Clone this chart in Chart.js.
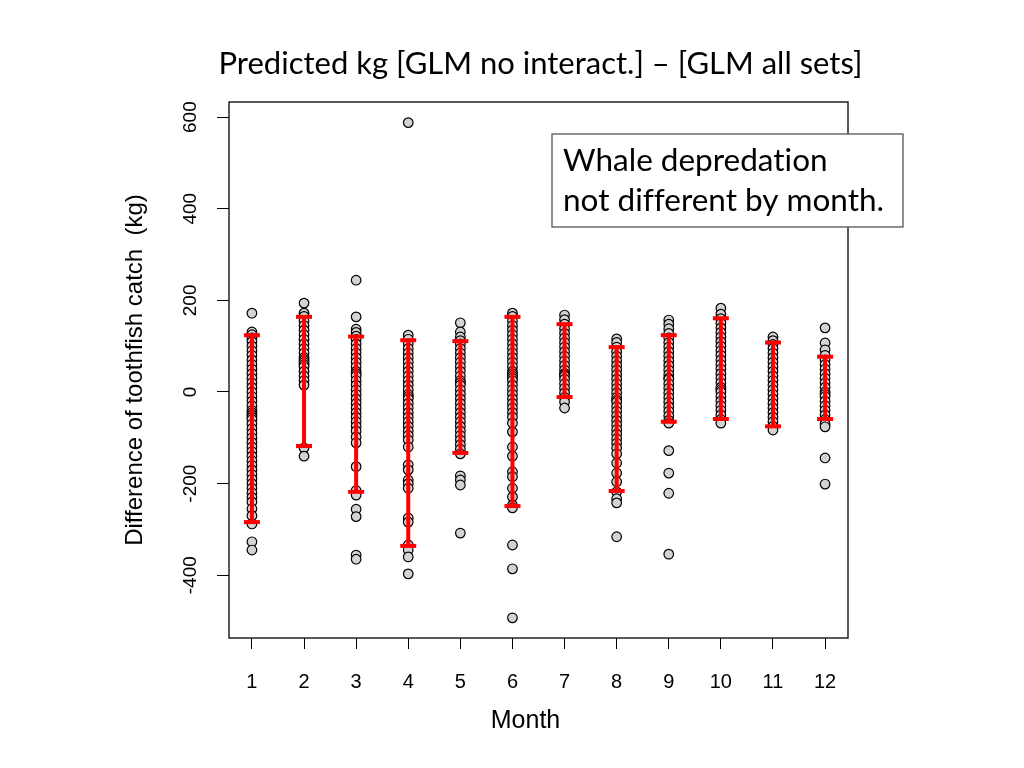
<!DOCTYPE html>
<html>
<head>
<meta charset="utf-8">
<script src="https://cdn.jsdelivr.net/npm/chart.js@4.4.0/dist/chart.umd.min.js"></script>
<style>
  html, body { margin: 0; padding: 0; background: #fff; }
</style>
</head>
<body>
<canvas id="diffChart" width="1024" height="768"></canvas>
<script>
// Months and per-month differences (kg)
const months = [1, 2, 3, 4, 5, 6, 7, 8, 9, 10, 11, 12];
const yTicks = [-400, -200, 0, 200, 400, 600];

const m1 = [172, 131, 125, 118, 110, 100, 90, 80, 70, 60, 50, 40, 30, 20, 10, 0, -10, -20, -30, -40, -45, -50, -55, -60, -70, -80, -90, -100, -110, -120, -130, -140, -150, -160, -170, -180, -190, -200, -210, -220, -230, -240, -255, -270, -288, -327, -345];
const m2 = [194, 172, 165, 155, 145, 135, 125, 115, 105, 95, 85, 75, 70, 65, 60, 55, 45, 35, 25, 15, -122, -140];
const m3 = [244, 164, 137, 130, 122, 115, 105, 95, 85, 75, 65, 55, 45, 40, 35, 25, 15, 5, -5, -15, -25, -35, -45, -55, -65, -75, -85, -98, -111, -163, -215, -225, -256, -272, -356, -365];
const m4 = [588, 124, 115, 105, 95, 85, 75, 65, 55, 45, 35, 25, 15, 5, -5, -10, -15, -25, -35, -45, -55, -65, -75, -85, -95, -105, -120, -159, -170, -192, -200, -210, -275, -284, -334, -345, -360, -397];
const m5 = [151, 131, 120, 112, 105, 95, 85, 75, 65, 55, 45, 35, 25, 20, 15, 5, -5, -15, -25, -35, -45, -55, -65, -75, -85, -95, -105, -115, -125, -135, -183, -192, -203, -308];
const m6 = [172, 165, 155, 145, 135, 125, 115, 105, 95, 85, 75, 65, 55, 45, 40, 35, 30, 25, 15, 5, -5, -15, -25, -35, -45, -55, -68, -87, -120, -140, -174, -185, -210, -229, -247, -253, -334, -386, -493];
const m7 = [168, 158, 148, 138, 128, 118, 108, 98, 88, 78, 68, 58, 48, 40, 38, 35, 28, 18, 8, -2, -12, -22, -35];
const m8 = [116, 108, 98, 88, 78, 68, 58, 48, 38, 28, 18, 8, -2, -12, -18, -22, -32, -42, -52, -62, -72, -82, -92, -102, -112, -122, -135, -155, -177, -196, -218, -233, -242, -316];
const m9 = [157, 148, 138, 128, 118, 108, 98, 88, 78, 68, 58, 48, 38, 30, 28, 18, 8, -2, -12, -22, -32, -42, -52, -62, -68, -128, -177, -221, -354];
const m10 = [183, 170, 160, 150, 140, 130, 120, 110, 100, 90, 80, 70, 60, 50, 40, 30, 20, 10, 5, 0, -10, -20, -30, -40, -50, -60, -68];
const m11 = [120, 112, 104, 95, 85, 75, 65, 55, 45, 35, 25, 15, 5, -5, -15, -25, -35, -45, -55, -65, -75, -83];
const m12 = [140, 107, 92, 80, 70, 60, 50, 40, 30, 20, 10, 0, -5, -10, -20, -30, -40, -50, -60, -70, -76, -144, -201];

// Red interval per month
const barLow = [-284, -118, -218, -336, -133, -249, -11, -216, -65, -59, -75, -59];
const barHigh = [124, 164, 121, 113, 111, 164, 148, 98, 124, 161, 108, 77];

const titleText = 'Predicted kg [GLM no interact.] – [GLM all sets]';
const xTitle = 'Month';
const noteLines = ['Whale depredation', 'not different by month.'];

const byMonth = [m1, m2, m3, m4, m5, m6, m7, m8, m9, m10, m11, m12];
const points = [];
byMonth.forEach((vals, i) => vals.forEach(v => points.push({ x: months[i], y: v })));

const barSets = months.map((m, i) => ({
    type: 'line',
    data: [{ x: m, y: barLow[i] }, { x: m, y: barHigh[i] }],
    showLine: true,
    borderColor: '#ff0000',
    borderWidth: 4,
    pointStyle: 'line',
    pointRadius: 8,
    pointBorderWidth: 4,
    pointBorderColor: '#ff0000',
    pointBackgroundColor: '#ff0000',
    order: 0
}));

// plot frame, titles and the note box
const framePlugin = {
    id: 'frame',
    afterDatasetsDraw(chart) {
        const { ctx, chartArea: a } = chart;
        ctx.save();
        ctx.strokeStyle = '#000';
        ctx.lineWidth = 1.3;
        ctx.strokeRect(a.left, a.top, a.right - a.left, a.bottom - a.top);
        ctx.restore();
    },
    afterDraw(chart) {
        const { ctx, chartArea: a } = chart;
        const mid = (a.left + a.right) / 2;
        ctx.save();
        ctx.textRendering = 'optimizeSpeed'; // no "ti" ligature
        ctx.fillStyle = '#000';
        ctx.textAlign = 'center';
        ctx.textBaseline = 'middle';
        ctx.font = '31px Lato';
        ctx.fillText(titleText, mid + 2, 64);

        ctx.font = '25px "Liberation Sans"';
        ctx.fillText(xTitle, mid - 13, 721);

        const bx = a.right - 296, by = a.top + 32;
        ctx.fillStyle = '#fff';
        ctx.fillRect(bx, by, 351, 93);
        ctx.strokeStyle = '#555';
        ctx.lineWidth = 1.3;
        ctx.strokeRect(bx, by, 351, 93);
        ctx.fillStyle = '#000';
        ctx.textAlign = 'left';
        ctx.font = '31.5px Lato';
        ctx.fillText(noteLines[0], bx + 11, by + 27);
        ctx.fillText(noteLines[1], bx + 11, by + 67);
        ctx.restore();
    }
};

new Chart(document.getElementById('diffChart'), {
    type: 'scatter',
    data: {
        datasets: barSets.concat([{
            label: 'Difference',
            data: points,
            pointRadius: 4.8,
            pointBackgroundColor: '#d3d3d3',
            pointBorderColor: '#000',
            pointBorderWidth: 1.2,
            order: 1
        }])
    },
    options: {
        responsive: false,
        animation: false,
        devicePixelRatio: 1,
        layout: { padding: { top: 102, left: 0, right: 176, bottom: 0 } },
        plugins: { legend: { display: false }, tooltip: { enabled: false } },
        scales: {
            x: {
                type: 'linear',
                min: 0.56,
                max: 12.44,
                afterBuildTicks: s => { s.ticks = months.map(v => ({ value: v })); },
                afterFit: s => { s.height = 130; },
                ticks: { color: '#000', padding: 21, font: { family: 'Liberation Sans', size: 20 } },
                grid: { drawOnChartArea: false, drawTicks: true, tickLength: 11, color: '#000' },
                border: { display: false },
                title: { display: false }
            },
            y: {
                type: 'linear',
                min: -537,
                max: 633,
                afterBuildTicks: s => { s.ticks = yTicks.map(v => ({ value: v })); },
                afterFit: s => { s.width = 229; },
                ticks: {
                    color: '#000', padding: 7, minRotation: 90, maxRotation: 90, crossAlign: 'center',
                    font: { family: 'Liberation Sans', size: 19 }
                },
                grid: { drawOnChartArea: false, drawTicks: true, tickLength: 12, color: '#000' },
                border: { display: false },
                title: {
                    display: true, text: 'Difference of toothfish catch  (kg)', color: '#000',
                    font: { family: 'Liberation Sans', size: 24 },
                    padding: { top: 121, bottom: 0 }
                }
            }
        }
    },
    plugins: [framePlugin]
});
</script>
</body>
</html>
